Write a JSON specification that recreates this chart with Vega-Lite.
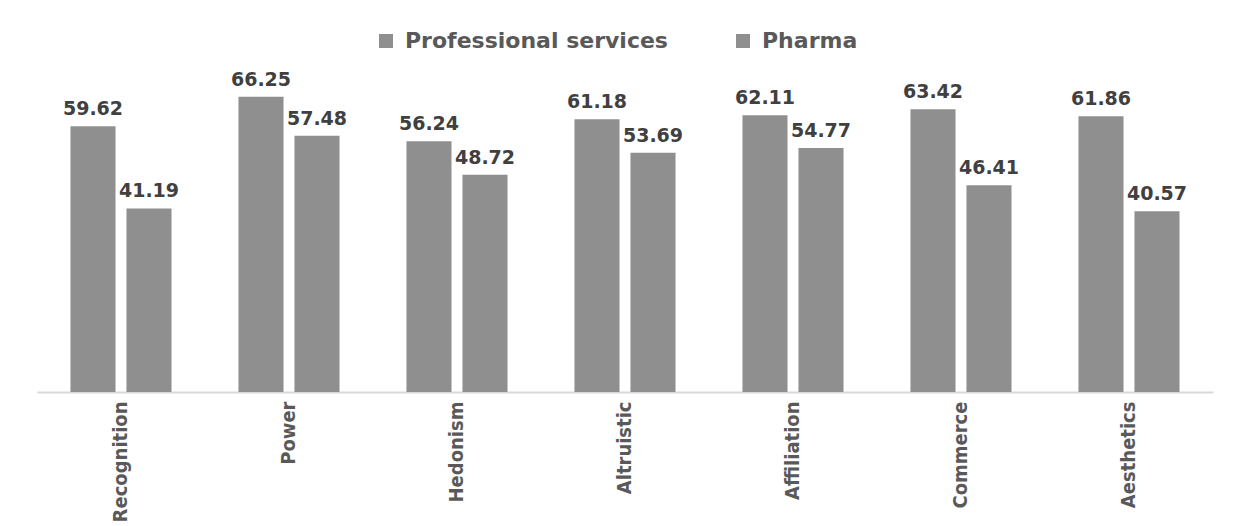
{
  "$schema": "https://vega.github.io/schema/vega-lite/v6.json",
  "autosize": "none",
  "width": 1176,
  "height": 312,
  "padding": {"left": 37, "top": 80, "right": 24, "bottom": 134},
  "background": "white",
  "config": {"view": {"stroke": null}},
  "data": {
    "values": [
      {"category": "Recognition", "series": "Professional services", "value": 59.62},
      {"category": "Recognition", "series": "Pharma", "value": 41.19},
      {"category": "Power", "series": "Professional services", "value": 66.25},
      {"category": "Power", "series": "Pharma", "value": 57.48},
      {"category": "Hedonism", "series": "Professional services", "value": 56.24},
      {"category": "Hedonism", "series": "Pharma", "value": 48.72},
      {"category": "Altruistic", "series": "Professional services", "value": 61.18},
      {"category": "Altruistic", "series": "Pharma", "value": 53.69},
      {"category": "Affiliation", "series": "Professional services", "value": 62.11},
      {"category": "Affiliation", "series": "Pharma", "value": 54.77},
      {"category": "Commerce", "series": "Professional services", "value": 63.42},
      {"category": "Commerce", "series": "Pharma", "value": 46.41},
      {"category": "Aesthetics", "series": "Professional services", "value": 61.86},
      {"category": "Aesthetics", "series": "Pharma", "value": 40.57}
    ]
  },
  "encoding": {
    "x": {
      "field": "category",
      "type": "nominal",
      "sort": null,
      "scale": {"paddingInner": 0, "paddingOuter": 0},
      "axis": {
        "title": null,
        "labelAngle": 270,
        "labelAlign": "right",
        "labelBaseline": "middle",
        "labelFont": "Liberation Sans Narrow, DejaVu Sans Condensed, sans-serif",
        "labelFontWeight": "bold",
        "labelFontSize": 20,
        "labelColor": "#595959",
        "labelPadding": 9,
        "ticks": false,
        "domainColor": "#d9d9d9",
        "domainWidth": 2
      }
    },
    "xOffset": {
      "field": "series",
      "type": "nominal",
      "sort": ["Professional services", "Pharma"],
      "scale": {"paddingInner": 0.196, "paddingOuter": 0.598}
    },
    "y": {
      "field": "value",
      "type": "quantitative",
      "scale": {"domain": [0, 70]},
      "axis": null
    }
  },
  "layer": [
    {
      "mark": {"type": "bar", "color": "#8f8f8f"},
      "encoding": {
        "color": {
          "field": "series",
          "type": "nominal",
          "sort": ["Professional services", "Pharma"],
          "scale": {"range": ["#8f8f8f", "#8f8f8f"]},
          "legend": {
            "title": null,
            "orient": "none",
            "direction": "horizontal",
            "legendX": 338,
            "legendY": -50,
            "symbolType": "square",
            "symbolSize": 196,
            "symbolStrokeWidth": 0,
            "labelFont": "DejaVu Sans",
            "labelFontWeight": "bold",
            "labelFontSize": 22,
            "labelColor": "#595959",
            "labelOffset": 8,
            "labelLimit": 500,
            "columnPadding": 64
          }
        }
      }
    },
    {
      "mark": {
        "type": "text",
        "align": "center",
        "baseline": "alphabetic",
        "dy": -11,
        "font": "DejaVu Sans",
        "fontWeight": "bold",
        "fontSize": 19,
        "color": "#404040"
      },
      "encoding": {
        "text": {"field": "value", "type": "quantitative", "format": ".2f"}
      }
    }
  ]
}
